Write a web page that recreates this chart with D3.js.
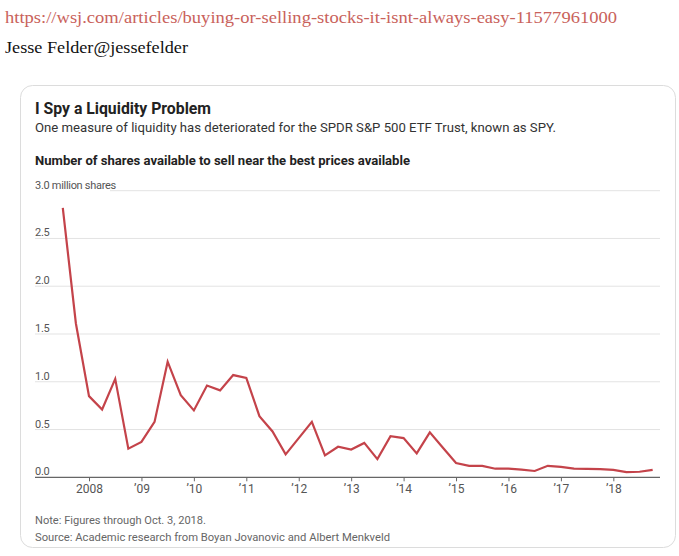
<!DOCTYPE html>
<html>
<head>
<meta charset="utf-8">
<script src="https://cdn.jsdelivr.net/npm/d3@7"></script>
<style>
  html, body { margin: 0; padding: 0; background: #fff; }
  svg { display: block; }
</style>
</head>
<body>
<script>
// ---- data ----
const quarters = [
  "2007Q3","2007Q4",
  "2008Q1","2008Q2","2008Q3","2008Q4",
  "2009Q1","2009Q2","2009Q3","2009Q4",
  "2010Q1","2010Q2","2010Q3","2010Q4",
  "2011Q1","2011Q2","2011Q3","2011Q4",
  "2012Q1","2012Q2","2012Q3","2012Q4",
  "2013Q1","2013Q2","2013Q3","2013Q4",
  "2014Q1","2014Q2","2014Q3","2014Q4",
  "2015Q1","2015Q2","2015Q3","2015Q4",
  "2016Q1","2016Q2","2016Q3","2016Q4",
  "2017Q1","2017Q2","2017Q3","2017Q4",
  "2018Q1","2018Q2","2018Q3","2018Q4"
];
const shares = [
  2.82, 1.61,
  0.85, 0.71, 1.03, 0.30,
  0.37, 0.58, 1.21, 0.86,
  0.70, 0.96, 0.91, 1.07,
  1.04, 0.64, 0.48, 0.24,
  0.41, 0.58, 0.23, 0.32,
  0.29, 0.36, 0.19, 0.43,
  0.41, 0.25, 0.47, 0.31,
  0.15, 0.12, 0.12, 0.09,
  0.09, 0.08, 0.066, 0.12,
  0.11, 0.09, 0.088, 0.085,
  0.078, 0.055, 0.058, 0.077
];
const yTicks = [0, 0.5, 1.0, 1.5, 2.0, 2.5, 3.0];
const yTickLabels = ["0.0", "0.5", "1.0", "1.5", "2.0", "2.5", "3.0 million shares"];
const xTicks = [2008, 2009, 2010, 2011, 2012, 2013, 2014, 2015, 2016, 2017, 2018];
const xTickLabels = ["2008", "\u201909", "\u201910", "\u201911", "\u201912", "\u201913", "\u201914", "\u201915", "\u201916", "\u201917", "\u201918"];

const urlText = "https://wsj.com/articles/buying-or-selling-stocks-it-isnt-always-easy-11577961000";
const author = "Jesse Felder@jessefelder";
const title = "I Spy a Liquidity Problem";
const subtitle = "One measure of liquidity has deteriorated for the SPDR S&P 500 ETF Trust, known as SPY.";
const header = "Number of shares available to sell near the best prices available";
const note = "Note: Figures through Oct. 3, 2018.";
const source = "Source: Academic research from Boyan Jovanovic and Albert Menkveld";

// ---- layout ----
const W = 679, H = 556;
const sans = "Roboto, 'Open Sans', sans-serif";
const svg = d3.select("body").append("svg").attr("width", W).attr("height", H);

// header texts outside the card
svg.append("text").attr("x", 5).attr("y", 23)
  .attr("font-family", "'Liberation Serif', 'DejaVu Serif', serif")
  .attr("font-size", 17).attr("fill", "#c9625b")
  .attr("textLength", 612).attr("lengthAdjust", "spacingAndGlyphs")
  .text(urlText);
svg.append("text").attr("x", 5).attr("y", 53)
  .attr("font-family", "'Liberation Serif', 'DejaVu Serif', serif")
  .attr("font-size", 17).attr("fill", "#111")
  .attr("textLength", 183).attr("lengthAdjust", "spacingAndGlyphs")
  .text(author);

// card
svg.append("rect").attr("x", 20.5).attr("y", 85.5).attr("width", 655).attr("height", 462)
  .attr("rx", 12).attr("fill", "#fff").attr("stroke", "#dcdcdc").attr("stroke-width", 1);

svg.append("text").attr("x", 35).attr("y", 114)
  .attr("font-family", sans).attr("font-weight", 700).attr("font-size", 16).attr("fill", "#222")
  .attr("textLength", 176).attr("lengthAdjust", "spacingAndGlyphs")
  .text(title);
svg.append("text").attr("x", 35).attr("y", 132)
  .attr("font-family", sans).attr("font-size", 13).attr("fill", "#333")
  .attr("textLength", 521).attr("lengthAdjust", "spacingAndGlyphs")
  .text(subtitle);
svg.append("text").attr("x", 35).attr("y", 165)
  .attr("font-family", sans).attr("font-weight", 700).attr("font-size", 13).attr("fill", "#222")
  .attr("textLength", 375).attr("lengthAdjust", "spacingAndGlyphs")
  .text(header);

// scales
const x = d3.scaleLinear().domain([2006.97, 2018.89]).range([35, 660]);
const y = d3.scaleLinear().domain([0, 3]).range([477.3, 190.7]);
const qYear = q => +q.slice(0, 4) + (+q.slice(5) - 1) / 4;

// gridlines
svg.append("g").selectAll("line").data(yTicks.filter(d => d > 0)).join("line")
  .attr("x1", d => d === 3 ? 110 : 35).attr("x2", 660)
  .attr("y1", d => y(d)).attr("y2", d => y(d))
  .attr("stroke", "#e3e3e3").attr("stroke-width", 1);

// y labels
svg.append("g").selectAll("text").data(yTicks).join("text")
  .attr("x", 35).attr("y", d => y(d) - 2)
  .attr("font-family", sans).attr("font-size", 11).attr("fill", "#555")
  .attr("letter-spacing", -0.3)
  .text((d, i) => yTickLabels[i]);

// x axis
const xAxis = d3.axisBottom(x).tickValues(xTicks).tickSize(4)
  .tickFormat((d, i) => xTickLabels[i]);
const gx = svg.append("g").attr("transform", `translate(0,${y(0)})`).call(xAxis);
gx.select(".domain").attr("stroke", "#666").attr("stroke-width", 1.3).attr("d", "M35,0H660");
gx.selectAll(".tick line").attr("stroke", "#666");
gx.selectAll(".tick text").attr("font-family", sans).attr("font-size", 12)
  .attr("fill", "#555").attr("dy", "0.95em").attr("y", 4);

// line
const line = d3.line().x((d, i) => x(qYear(quarters[i]))).y(d => y(d));
svg.append("path").datum(shares).attr("d", line)
  .attr("fill", "none").attr("stroke", "#c4434a").attr("stroke-width", 2.2)
  .attr("stroke-linejoin", "miter");

// footnotes
svg.append("text").attr("x", 35).attr("y", 524)
  .attr("font-family", sans).attr("font-size", 11).attr("fill", "#666")
  .attr("textLength", 171).attr("lengthAdjust", "spacingAndGlyphs")
  .text(note);
svg.append("text").attr("x", 35).attr("y", 541)
  .attr("font-family", sans).attr("font-size", 11).attr("fill", "#666")
  .attr("textLength", 355).attr("lengthAdjust", "spacingAndGlyphs")
  .text(source);
</script>
</body>
</html>
